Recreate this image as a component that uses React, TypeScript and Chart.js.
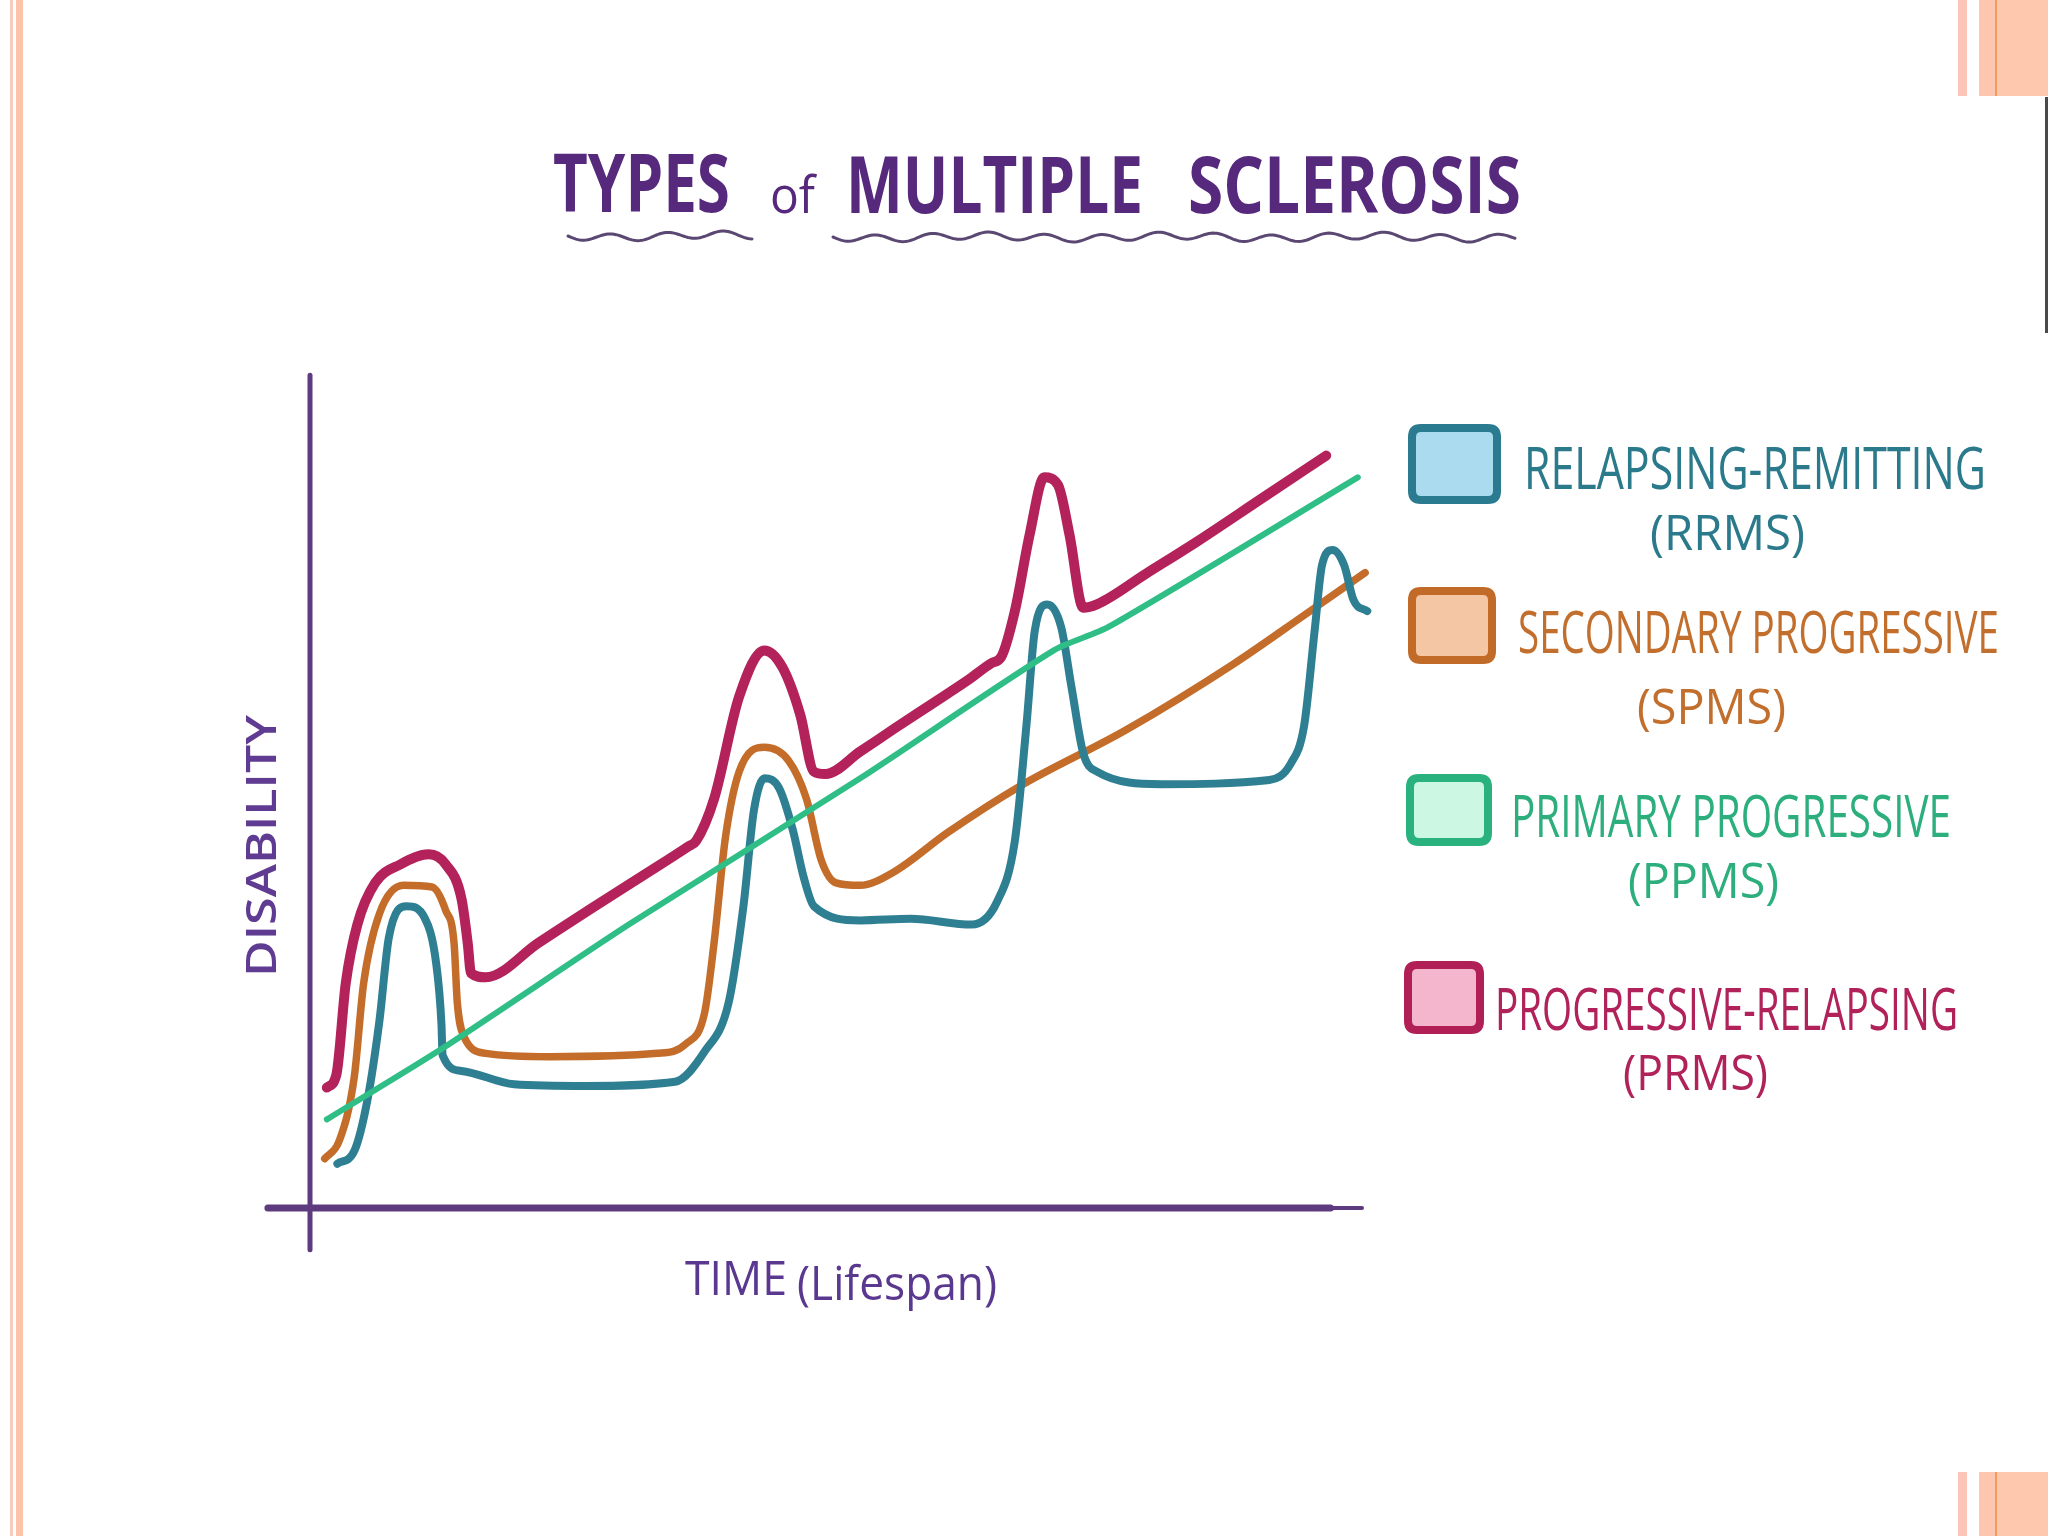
import React, { useEffect, useRef } from "react";
import { Chart, registerables } from "chart.js";

Chart.register(...registerables);

// ---- Data (x: time 0-100, y: disability 0-100) ----
const seriesLabels = ["RELAPSING-REMITTING", "SECONDARY PROGRESSIVE", "PRIMARY PROGRESSIVE", "PROGRESSIVE-RELAPSING"];
const seriesAbbr = ["(RRMS)", "(SPMS)", "(PPMS)", "(PRMS)"];

const rrmsX = [2.6, 4.2, 5.5, 6.6, 7.5, 9.2, 10.9, 12.0, 12.5, 12.6, 14.4, 19.4, 26.2, 34.7, 37.5, 39.8, 41.2, 42.2, 43.2, 44.6, 45.9, 46.9, 47.9, 52.3, 57.1, 62.9, 65.3, 67.0, 68.1, 68.9, 70.1, 71.4, 72.4, 73.5, 74.8, 80.9, 91.2, 93.2, 94.5, 95.5, 96.2, 97.2, 98.3, 99.2, 100.5];
const rrmsY = [5.3, 6.8, 13.2, 22.4, 32.4, 36.1, 34.7, 29.2, 21.9, 18.3, 16.4, 14.8, 14.6, 15.1, 18.7, 24.6, 36.1, 47.6, 51.4, 50.2, 45.2, 39.7, 36.1, 34.4, 34.6, 33.9, 36.6, 43.9, 57.7, 69.1, 72.2, 69.5, 62.2, 54.4, 52.2, 50.7, 51.2, 53.1, 57.7, 69.1, 76.9, 78.7, 76.9, 72.7, 71.4];

const spmsX = [1.4, 2.8, 4.2, 5.1, 6.6, 8.9, 11.6, 12.9, 13.7, 14.0, 14.6, 16.7, 22.8, 33.0, 35.7, 37.5, 38.4, 39.5, 40.8, 43.2, 45.5, 47.2, 48.6, 50.0, 52.3, 55.5, 60.6, 67.4, 77.6, 87.7, 94.5, 100.3];
const spmsY = [5.9, 8.1, 15.6, 26.9, 35.2, 38.6, 38.4, 35.6, 31.6, 24.6, 20.6, 18.5, 18.1, 18.5, 19.6, 23.3, 31.6, 44.4, 52.2, 55.1, 53.5, 48.9, 41.6, 38.9, 38.6, 40.2, 44.9, 50.4, 57.2, 65.0, 70.9, 76.0];

const ppmsX = [1.6, 12.6, 30.3, 52.3, 70.7, 75.9, 99.6];
const ppmsY = [10.6, 19.1, 33.9, 51.4, 66.7, 69.5, 87.4];

const prmsX = [1.6, 2.5, 3.4, 4.5, 6.2, 8.6, 11.3, 12.9, 14.4, 15.0, 15.3, 16.7, 21.7, 26.7, 31.7, 35.9, 36.7, 38.4, 40.8, 43.2, 44.9, 46.6, 47.9, 49.0, 52.3, 55.5, 59.0, 62.5, 64.8, 65.7, 67.0, 68.4, 69.8, 71.1, 72.2, 73.5, 74.8, 79.5, 84.3, 90.5, 96.6];
const prmsY = [14.4, 15.9, 26.9, 33.9, 38.9, 41.1, 42.3, 41.1, 37.0, 31.6, 28.1, 27.6, 31.7, 35.8, 39.8, 43.2, 43.9, 48.9, 61.2, 66.7, 64.7, 59.0, 52.2, 51.9, 54.6, 57.3, 60.2, 63.1, 65.2, 65.9, 71.4, 80.5, 87.4, 86.5, 80.5, 71.8, 72.2, 75.9, 79.7, 84.9, 90.0];

const titleWords = ["TYPES", "of", "MULTIPLE", "SCLEROSIS"];
const yAxisTitle = "DISABILITY";
const xAxisTitleMain = "TIME";
const xAxisTitleSub = "(Lifespan)";

// ---- Styles ----
const lineColors = ["#2f7f93", "#c46d2b", "#2fbe86", "#b3225a"];
const boxFills = ["#aadbee", "#f4c6a4", "#cbf7e3", "#f3b6cc"];
const boxBorders = ["#2b7b90", "#c26a28", "#29b17e", "#b01f55"];
const textColors = ["#2b7a8c", "#c26f2e", "#2cae7d", "#b1225a"];
const lineWidths = [8, 7.5, 6, 10];
const purple = "#56297d";
const axisPurple = "#5e3a7e";

const FONT = "'Open Sans', 'DejaVu Sans', sans-serif";

function fitText(ctx: CanvasRenderingContext2D, text: string, x: number, baseline: number, width: number, font: string, color: string) {
  ctx.save();
  ctx.font = font;
  const w = ctx.measureText(text).width;
  const sx = width / w;
  ctx.translate(x, baseline);
  ctx.scale(sx, 1);
  ctx.fillStyle = color;
  ctx.textBaseline = "alphabetic";
  ctx.textAlign = "left";
  ctx.fillText(text, 0, 0);
  ctx.restore();
}

function squiggle(ctx: CanvasRenderingContext2D, x0: number, x1: number, y: number) {
  ctx.save();
  ctx.strokeStyle = "#5a4872";
  ctx.lineWidth = 3;
  ctx.lineCap = "round";
  ctx.beginPath();
  for (let x = x0; x <= x1; x += 2) {
    const yy = y + 3.5 * Math.sin((x - x0) / 9) + 1.5 * Math.sin((x - x0) / 31);
    if (x === x0) ctx.moveTo(x, yy);
    else ctx.lineTo(x, yy);
  }
  ctx.stroke();
  ctx.restore();
}

function roundRect(ctx: CanvasRenderingContext2D, x: number, y: number, w: number, h: number, r: number) {
  ctx.beginPath();
  ctx.moveTo(x + r, y);
  ctx.lineTo(x + w - r, y);
  ctx.quadraticCurveTo(x + w, y, x + w, y + r);
  ctx.lineTo(x + w, y + h - r);
  ctx.quadraticCurveTo(x + w, y + h, x + w - r, y + h);
  ctx.lineTo(x + r, y + h);
  ctx.quadraticCurveTo(x, y + h, x, y + h - r);
  ctx.lineTo(x, y + r);
  ctx.quadraticCurveTo(x, y, x + r, y);
  ctx.closePath();
}

const decorPlugin = {
  id: "decor",
  beforeDraw(chart: any) {
    const ctx: CanvasRenderingContext2D = chart.ctx;
    ctx.save();
    ctx.fillStyle = "#ffffff";
    ctx.fillRect(0, 0, chart.width, chart.height);
    // left slide border
    ctx.fillStyle = "#f8cbbf";
    ctx.fillRect(10, 0, 3, chart.height);
    ctx.fillStyle = "#fbc4a8";
    ctx.fillRect(16, 0, 7, chart.height);
    const stripes = (y: number, h: number) => {
      ctx.fillStyle = "#fcc5b8";
      ctx.fillRect(1958, y, 9, h);
      ctx.fillStyle = "#fdc6ae";
      ctx.fillRect(1979, y, 16, h);
      ctx.fillStyle = "#f39a60";
      ctx.fillRect(1995, y, 2, h);
      ctx.fillStyle = "#fec8ae";
      ctx.fillRect(1997, y, 51, h);
    };
    stripes(0, 96);
    stripes(1472, 64);
    ctx.fillStyle = "#4a4a4a";
    ctx.fillRect(2045, 97, 3, 236);
    ctx.restore();
  },
  beforeDatasetsDraw(chart: any) {
    const ctx: CanvasRenderingContext2D = chart.ctx;
    const xs = chart.scales.x;
    const ys = chart.scales.y;
    const x0 = xs.getPixelForValue(0);
    const y0 = ys.getPixelForValue(0);
    ctx.save();
    ctx.strokeStyle = axisPurple;
    ctx.lineCap = "round";
    // y axis
    ctx.lineWidth = 5;
    ctx.beginPath();
    ctx.moveTo(x0, ys.getPixelForValue(99.6));
    ctx.lineTo(x0, ys.getPixelForValue(-5));
    ctx.stroke();
    // x axis
    ctx.lineWidth = 7;
    ctx.beginPath();
    ctx.moveTo(xs.getPixelForValue(-4), y0);
    ctx.lineTo(xs.getPixelForValue(97), y0);
    ctx.stroke();
    ctx.lineWidth = 4;
    ctx.beginPath();
    ctx.moveTo(xs.getPixelForValue(96), y0);
    ctx.lineTo(xs.getPixelForValue(100), y0);
    ctx.stroke();
    ctx.restore();
  },
  afterDraw(chart: any) {
    const ctx: CanvasRenderingContext2D = chart.ctx;
    // Title
    fitText(ctx, titleWords[0], 553, 212, 177, `700 80px ${FONT}`, purple);
    fitText(ctx, titleWords[1], 770, 213, 45, `400 52px ${FONT}`, purple);
    fitText(ctx, titleWords[2], 846, 213, 297, `700 78px ${FONT}`, purple);
    fitText(ctx, titleWords[3], 1188, 213, 333, `700 78px ${FONT}`, purple);
    squiggle(ctx, 568, 752, 236);
    squiggle(ctx, 833, 1515, 237);

    // Axis titles
    ctx.save();
    ctx.translate(276, 977);
    ctx.rotate(-Math.PI / 2);
    fitText(ctx, yAxisTitle, 0, 0, 262, `600 42px ${FONT}`, "#5f3c92");
    ctx.restore();
    fitText(ctx, xAxisTitleMain, 685, 1295, 102, `500 48px ${FONT}`, "#5b3890");
    fitText(ctx, xAxisTitleSub, 797, 1300, 200, `400 48px ${FONT}`, "#5b3890");

    // Legend
    const boxes = [
      [1412, 428, 85, 72],
      [1412, 591, 80, 69],
      [1410, 778, 78, 64],
      [1408, 965, 72, 65],
    ];
    const nameX = [1524, 1518, 1511, 1495];
    const nameW = [462, 481, 440, 463];
    const nameBase = [489, 653, 837, 1030];
    const abbrX = [1650, 1637, 1628, 1623];
    const abbrW = [155, 149, 151, 145];
    const abbrBase = [550, 724, 898, 1090];
    for (let i = 0; i < 4; i++) {
      const [bx, by, bw, bh] = boxes[i];
      ctx.save();
      roundRect(ctx, bx, by, bw, bh, 9);
      ctx.fillStyle = boxFills[i];
      ctx.fill();
      ctx.lineWidth = 8;
      ctx.strokeStyle = boxBorders[i];
      ctx.stroke();
      ctx.restore();
      fitText(ctx, seriesLabels[i], nameX[i], nameBase[i], nameW[i], `500 58px ${FONT}`, textColors[i]);
      fitText(ctx, seriesAbbr[i], abbrX[i], abbrBase[i], abbrW[i], `400 50px ${FONT}`, textColors[i]);
    }
  },
};

function pts(xs: number[], ys: number[]) {
  return xs.map((x, i) => ({ x, y: ys[i] }));
}

export default function App() {
  const ref = useRef<HTMLCanvasElement>(null);
  useEffect(() => {
    if (!ref.current) return;
    const common = {
      pointRadius: 0,
      fill: false,
      borderCapStyle: "round" as const,
      borderJoinStyle: "round" as const,
      clip: false as any,
    };
    const chart = new Chart(ref.current, {
      type: "line",
      data: {
        datasets: [
          { ...common, label: seriesLabels[0], data: pts(rrmsX, rrmsY), borderColor: lineColors[0], borderWidth: lineWidths[0], cubicInterpolationMode: "monotone", order: 1 },
          { ...common, label: seriesLabels[1], data: pts(spmsX, spmsY), borderColor: lineColors[1], borderWidth: lineWidths[1], cubicInterpolationMode: "monotone", order: 2 },
          { ...common, label: seriesLabels[2], data: pts(ppmsX, ppmsY), borderColor: lineColors[2], borderWidth: lineWidths[2], tension: 0.25, order: 0 },
          { ...common, label: seriesLabels[3], data: pts(prmsX, prmsY), borderColor: lineColors[3], borderWidth: lineWidths[3], cubicInterpolationMode: "monotone", order: 3 },
        ],
      },
      options: {
        responsive: false,
        devicePixelRatio: 1,
        animation: false,
        layout: { padding: { left: 310, top: 372, right: 686, bottom: 328 } },
        scales: {
          x: { type: "linear", min: 0, max: 100, display: false },
          y: { type: "linear", min: 0, max: 100, display: false },
        },
        plugins: {
          legend: { display: false },
          tooltip: { enabled: false },
          title: { display: false },
        },
      },
      plugins: [decorPlugin],
    });
    let alive = true;
    if ((document as any).fonts && (document as any).fonts.ready) {
      (document as any).fonts.ready.then(() => {
        if (alive) chart.update();
      });
    }
    return () => {
      alive = false;
      chart.destroy();
    };
  }, []);
  return (
    <div style={{ position: "fixed", left: 0, top: 0, width: 2048, height: 1536, background: "#fff" }}>
      <canvas ref={ref} width={2048} height={1536} style={{ display: "block", width: 2048, height: 1536 }} />
    </div>
  );
}
